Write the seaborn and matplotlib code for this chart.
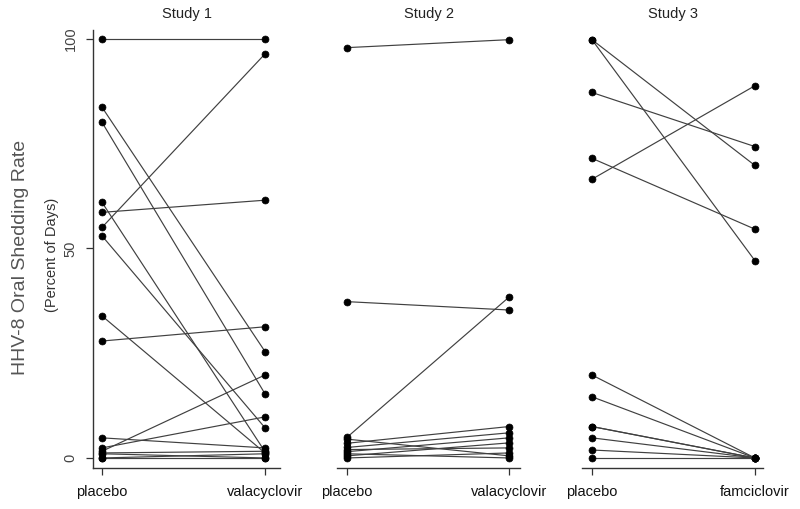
import matplotlib
matplotlib.use("Agg")
import matplotlib.pyplot as plt
import pandas as pd
import seaborn as sns

# values (percent of days with oral shedding)
study1_placebo = [100, 83.7, 80.1, 61.0, 58.6, 55.0, 53.0, 33.9, 27.9, 4.8, 1.6, 2.4, 1.2, 0.0, 0.0, 1.0]
study1_valacyclovir = [100, 25.4, 15.3, 1.5, 61.5, 96.4, 7.2, 1.2, 31.3, 2.4, 19.8, 9.8, 1.6, 0.0, 1.0, 0.0]

study2_placebo = [97.9, 37.3, 4.9, 4.5, 3.5, 2.5, 1.5, 0.5, 2.0, 0.0, 1.0]
study2_valacyclovir = [99.8, 35.3, 38.4, 0.5, 7.5, 6.0, 4.8, 3.6, 2.4, 1.2, 0.0]

study3_placebo = [99.8, 99.8, 87.2, 71.5, 66.5, 19.8, 14.6, 7.5, 7.5, 4.8, 1.9, 0.0]
study3_famciclovir = [69.8, 47.1, 74.3, 54.6, 88.8, 0, 0, 0, 0, 0, 0, 0]

studies = ["Study 1", "Study 2", "Study 3"]
drug_names = ["valacyclovir", "valacyclovir", "famciclovir"]
pairs = [(study1_placebo, study1_valacyclovir),
         (study2_placebo, study2_valacyclovir),
         (study3_placebo, study3_famciclovir)]

rows = []
for s, (pl, dr) in zip(studies, pairs):
    for i, (a, b) in enumerate(zip(pl, dr)):
        rows.append(dict(study=s, pair=i, arm=0, rate=a))
        rows.append(dict(study=s, pair=i, arm=1, rate=b))
df = pd.DataFrame(rows)

sns.set_style("white")
plt.rcParams['font.family'] = ['Liberation Sans', 'DejaVu Sans']

fig = plt.figure(figsize=(8, 5.09), dpi=100)
bottom, height = 0.0805, 0.8605
positions = [(0.11625, 0.23375), (0.42125, 0.22875), (0.7275, 0.22625)]
xlims = [(-0.055, 1.092), (-0.061, 1.067), (-0.061, 1.05)]

line_col = '#404040'
for k, s in enumerate(studies):
    ax = fig.add_axes([positions[k][0], bottom, positions[k][1], height])
    sub = df[df.study == s]
    sns.lineplot(data=sub, x='arm', y='rate', units='pair', estimator=None,
                 color=line_col, lw=0.85, marker='o', markersize=5,
                 markerfacecolor='black', markeredgecolor='black',
                 markeredgewidth=0.5, ax=ax)
    ax.set_xlim(*xlims[k])
    ax.set_ylim(-2.4, 102.1)
    ax.set_xticks([0, 1])
    ax.set_xticklabels(['placebo', drug_names[k]], fontsize=10.5, color='#111111')
    ax.set_xlabel('')
    ax.set_ylabel('')
    ax.set_title(s, fontsize=10.5, pad=9, color='#222222')
    for sp in ['top', 'right']:
        ax.spines[sp].set_visible(False)
    ax.spines['bottom'].set_color('#333333')
    ax.spines['bottom'].set_linewidth(1.0)
    ax.tick_params(axis='x', length=5, width=0.9, color='#333333', pad=7, bottom=True)
    if k == 0:
        ax.spines['left'].set_color('#333333')
        ax.spines['left'].set_linewidth(1.0)
        ax.set_yticks([0, 50, 100])
        ax.set_yticklabels(['0', '50', '100'], rotation=90, va='center',
                           fontsize=10.5, color='#444444')
        ax.tick_params(axis='y', length=5, width=0.9, color='#333333', pad=6, left=True)
    else:
        ax.spines['left'].set_visible(False)
        ax.set_yticks([])

fig.text(0.026, 0.495, 'HHV-8 Oral Shedding Rate', rotation=90, ha='center',
         va='center', fontsize=14, color='#555555')
fig.text(0.065, 0.50, '(Percent of Days)', rotation=90, ha='center',
         va='center', fontsize=10.5, color='#333333')

fig.savefig('out.png', dpi=100)
